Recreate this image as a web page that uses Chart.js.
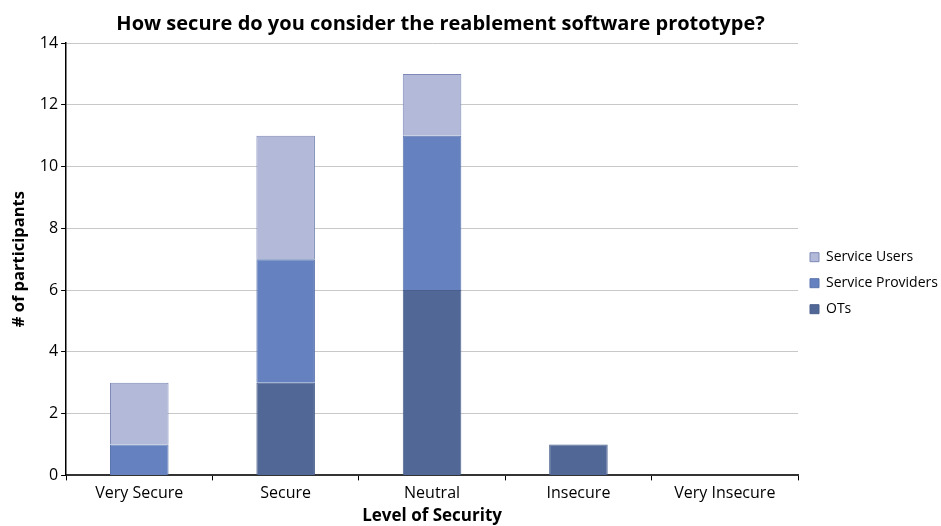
<!DOCTYPE html>
<html>
<head>
<meta charset="utf-8">
<script src="https://cdn.jsdelivr.net/npm/chart.js@4"></script>
<style>
  html, body { margin: 0; padding: 0; background: #fff; }
  #wrap { width: 941px; height: 526px; }
</style>
</head>
<body>
<div id="wrap"><canvas id="chart" width="941" height="526"></canvas></div>
<script>
// data
var categories = ['Very Secure', 'Secure', 'Neutral', 'Insecure', 'Very Insecure'];
var ots = [0, 3, 6, 1, 0];
var serviceProviders = [1, 4, 5, 0, 0];
var serviceUsers = [2, 4, 2, 0, 0];

var font = "'Open Sans', 'Liberation Sans', sans-serif";
Chart.defaults.font.family = font;
Chart.defaults.color = '#000';

// nudge the title a bit to the right, like the original
var titleShift = {
  id: 'titleShift',
  afterLayout: function (chart) {
    if (chart.titleBlock) { chart.titleBlock.left += 17; }
  }
};

var chart = new Chart(document.getElementById('chart'), {
  type: 'bar',
  data: {
    labels: categories,
    datasets: [
      { label: 'OTs', data: ots, backgroundColor: '#516897', borderColor: '#4a5f8c', borderWidth: 1 },
      { label: 'Service Providers', data: serviceProviders, backgroundColor: '#6581bf', borderColor: '#5a74ad', borderWidth: 1 },
      { label: 'Service Users', data: serviceUsers, backgroundColor: '#b3b9d8', borderColor: '#7d89b8', borderWidth: 1 }
    ]
  },
  options: {
    responsive: false,
    animation: false,
    layout: { padding: { top: 4, right: 0, left: 5, bottom: 0 } },
    datasets: { bar: { barPercentage: 0.4, categoryPercentage: 1.0 } },
    plugins: {
      title: {
        display: true,
        fullSize: false,
        text: 'How secure do you consider the reablement software prototype?',
        font: { size: 20, weight: 'bold' },
        padding: { top: 8, bottom: 7 }
      },
      legend: {
        position: 'right',
        reverse: true,
        maxWidth: 143,
        title: { display: true, text: ' ', font: { size: 12 }, padding: { top: 0, bottom: 22 } },
        labels: { boxWidth: 9, boxHeight: 9, font: { size: 14 }, padding: 12 }
      },
      tooltip: { enabled: false }
    },
    scales: {
      x: {
        stacked: true,
        grid: { offset: true, drawOnChartArea: false, tickLength: 5, color: '#000' },
        border: { color: '#333', width: 2 },
        ticks: { font: { size: 16 }, padding: 3 },
        title: { display: true, text: 'Level of Security', font: { size: 17, weight: 'bold' }, padding: { top: 0, bottom: 0 } }
      },
      y: {
        stacked: true,
        min: 0,
        max: 14,
        ticks: { stepSize: 2, font: { size: 16 }, padding: 3 },
        grid: { color: '#c8c8c8', tickLength: 5, tickColor: '#000' },
        border: { color: '#000', width: 1.5 },
        title: { display: true, text: '# of participants', font: { size: 16.5, weight: 'bold' }, padding: { bottom: 8 } }
      }
    }
  },
  plugins: [titleShift]
});
</script>
</body>
</html>
